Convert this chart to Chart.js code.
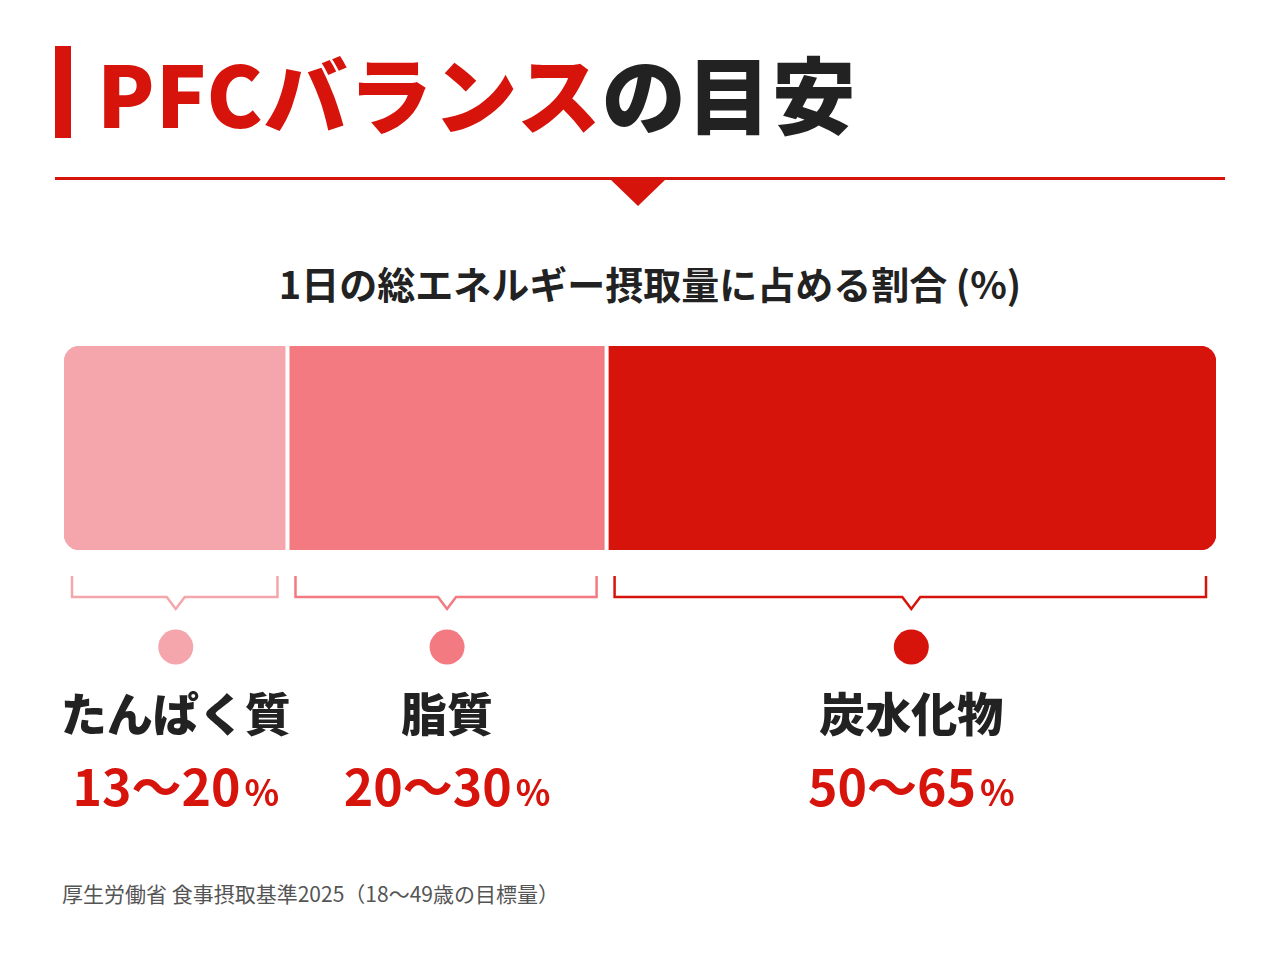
<!DOCTYPE html>
<html lang="ja">
<head>
<meta charset="utf-8">
<script src="https://cdn.jsdelivr.net/npm/chart.js@4"></script>
<style>
  body { margin: 0; width: 1280px; height: 960px; background: #fff; position: relative; overflow: hidden;
         font-family: "Noto Sans CJK JP", "Noto Sans", sans-serif; }
  #title { position: absolute; left: 55px; top: 42px; height: 100px; display: flex; align-items: center; }
  #title .bar { width: 16px; height: 92px; background: #d7140c; margin-right: 26px; }
  #title span { font-size: 84px; font-weight: 900; line-height: 1; letter-spacing: 1px; }
  #rule { position: absolute; left: 55px; top: 177px; width: 1170px; height: 3px; background: #d7140c; }
  #tri { position: absolute; left: 610px; top: 179px; width: 0; height: 0;
         border-left: 28px solid transparent; border-right: 28px solid transparent; border-top: 27px solid #d7140c; }
  #sub { position: absolute; left: 0; width: 1300px; top: 255px; text-align: center; font-size: 38px; font-weight: 700; color: #222; }
  #note { position: absolute; left: 62px; top: 878px; font-size: 21px; color: #555; }
  canvas { position: absolute; left: 0; top: 0; }
</style>
</head>
<body>
<div id="title"><div class="bar"></div><span style="color:#d7140c">PFCバランス</span><span style="color:#222">の目安</span></div>
<div id="rule"></div>
<div id="tri"></div>
<div id="sub">1日の総エネルギー摂取量に占める割合 (%)</div>
<div id="note">厚生労働省 食事摂取基準2025（18〜49歳の目標量）</div>
<div style="position:absolute;left:0;top:0;width:1280px;height:960px"><canvas id="pfc"></canvas></div>
<script>
const categories = ['たんぱく質', '脂質', '炭水化物'];
const shares = [19.4, 27.7, 52.9];
const ranges = ['13〜20', '20〜30', '50〜65'];
const colors = ['#f5a6ac', '#f27a80', '#d7140c'];

const labelPlugin = {
  id: 'labels',
  afterDatasetsDraw(chart) {
    const ctx = chart.ctx;
    const x = chart.scales.x;
    const top = chart.chartArea.top, bottom = chart.chartArea.bottom;
    let start = 0;
    shares.forEach((v, i) => {
      const x0 = x.getPixelForValue(start);
      const x1 = x.getPixelForValue(start + v);
      const cx = (x0 + x1) / 2;
      // separator
      if (i > 0) {
        ctx.fillStyle = '#fff';
        ctx.fillRect(x0 - 2, top - 1, 4, bottom - top + 2);
      }
      // bracket
      ctx.strokeStyle = colors[i];
      ctx.lineWidth = 2.5;
      ctx.beginPath();
      ctx.moveTo(x0 + 8, 576);
      ctx.lineTo(x0 + 8, 597);
      ctx.lineTo(cx - 9, 597);
      ctx.lineTo(cx, 609);
      ctx.lineTo(cx + 9, 597);
      ctx.lineTo(x1 - 10, 597);
      ctx.lineTo(x1 - 10, 576);
      ctx.stroke();
      // dot
      ctx.fillStyle = colors[i];
      ctx.beginPath();
      ctx.arc(cx, 647, 17.5, 0, Math.PI * 2);
      ctx.fill();
      // name
      ctx.textAlign = 'center';
      ctx.textBaseline = 'middle';
      ctx.fillStyle = '#222';
      ctx.font = '900 46px "Noto Sans CJK JP"';
      ctx.fillText(categories[i], cx, 714);
      // value
      ctx.font = '700 50px "Noto Sans CJK JP"';
      const w1 = ctx.measureText(ranges[i]).width;
      ctx.font = '700 36px "Noto Sans CJK JP"';
      const w2 = ctx.measureText('%').width;
      const left = cx - (w1 + w2 + 4) / 2;
      ctx.textAlign = 'left';
      ctx.fillStyle = '#d7140c';
      ctx.font = '700 50px "Noto Sans CJK JP"';
      ctx.fillText(ranges[i], left, 787);
      ctx.font = '700 36px "Noto Sans CJK JP"';
      ctx.fillText('%', left + w1 + 4, 792);
      start += v;
    });
  }
};

new Chart(document.getElementById('pfc'), {
  type: 'bar',
  data: {
    labels: ['PFC'],
    datasets: categories.map((c, i) => ({
      label: c,
      data: [shares[i]],
      backgroundColor: colors[i],
      borderSkipped: false,
      borderRadius: i === 0 ? { topLeft: 16, bottomLeft: 16 } :
                    i === 2 ? { topRight: 16, bottomRight: 16 } : 0,
      barPercentage: 1,
      categoryPercentage: 1
    }))
  },
  options: {
    indexAxis: 'y',
    responsive: true,
    maintainAspectRatio: false,
    animation: false,
    layout: { padding: { left: 64, right: 64, top: 346, bottom: 410 } },
    plugins: { legend: { display: false }, tooltip: { enabled: false } },
    scales: {
      x: { stacked: true, min: 0, max: 100, display: false },
      y: { stacked: true, display: false }
    }
  },
  plugins: [labelPlugin]
});
</script>
</body>
</html>
